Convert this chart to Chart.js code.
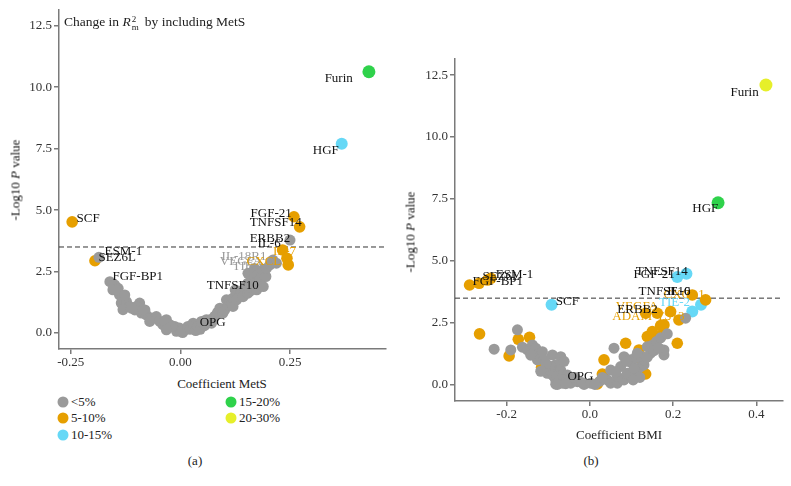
<!DOCTYPE html>
<html>
<head>
<meta charset="utf-8">
<script src="https://cdn.jsdelivr.net/npm/chart.js@4.4.0/dist/chart.umd.min.js"></script>
<style>
body { margin: 0; background: #fff; }
#fig { position: relative; width: 791px; height: 486px; font-family: 'Liberation Serif', serif; color: #222; }
canvas { position: absolute; }
.t { position: absolute; white-space: nowrap; font-size: 13px; line-height: 1; }
.ctr { transform: translate(-50%, -50%); }
.ytitle { transform: translate(-50%, -50%) rotate(-90deg); color: #111; }
.rs { display: inline-flex; flex-direction: column; font-size: 9px; line-height: 8px; vertical-align: middle; margin: 0 6px 0 1px; }
.dot { position: absolute; width: 11px; height: 11px; border-radius: 50%; transform: translate(-50%, -50%); }
</style>
</head>
<body>
<div id="fig">
  <canvas id="chartA" width="400" height="370" style="left:0;top:0"></canvas>
  <canvas id="chartB" width="395" height="422" style="left:396px;top:0"></canvas>

  <div class="t" style="left:64px;top:15px;font-size:13.5px">Change in <i>R</i><span class="rs"><span>2</span><span>m</span></span>by including MetS</div>

  <div class="t ytitle" style="left:15px;top:180px">-Log10 <i>P</i> value</div>
  <div class="t ytitle" style="left:410px;top:232px">-Log10 <i>P</i> value</div>
  <div class="t ctr" style="left:222px;top:383px">Coefficient MetS</div>
  <div class="t ctr" style="left:619px;top:434px">Coefficient BMI</div>

  <div id="legend"></div>

  <div class="t ctr" style="left:195px;top:460px">(a)</div>
  <div class="t ctr" style="left:591px;top:460px">(b)</div>
</div>

<script>
// colour groups: change in R2m
const groupNames = ['<5%', '5-10%', '10-15%', '15-20%', '20-30%'];
const groupColors = ['#9a9a9a', '#e69f00', '#66d8f6', '#2fd24b', '#e6ef2a'];

const yTicks = [0, 2.5, 5, 7.5, 10, 12.5];
const pThreshold = 3.5;

// (a) MetS  [coefficient, -log10 p]
const metsTicks = [-0.25, 0, 0.25];
const metsGrey = [
  [-0.186,3.08],[-0.161,2.09],[-0.150,1.96],[-0.142,1.82],[-0.154,1.76],[-0.139,1.55],[-0.131,1.35],
  [-0.135,1.22],[-0.123,1.28],[-0.116,1.08],[-0.104,0.94],[-0.093,1.22],[-0.089,0.81],[-0.078,0.74],
  [-0.066,0.61],[-0.055,0.67],[-0.047,0.47],[-0.032,0.54],[-0.024,0.34],[-0.013,0.27],[-0.002,0.20],
  [0.010,0.13],[-0.009,0.07],[-0.040,0.34],[-0.070,0.47],[-0.081,0.94],[-0.100,1.08],[-0.131,0.95],
  [-0.145,1.75],[-0.127,1.55],[-0.112,1.01],[-0.085,0.95],[-0.036,0.47],[-0.020,0.27],[-0.032,0.13],
  [0.002,0.07],[0.005,0.02],[0.017,0.27],[0.022,0.15],[0.029,0.40],[0.031,0.27],[0.035,0.10],
  [0.040,0.27],[0.045,0.15],[0.048,0.47],[0.055,0.30],[0.059,0.54],[0.067,0.54],[0.071,0.40],
  [0.078,0.68],[0.082,0.74],[0.085,0.85],[0.090,1.01],[0.097,0.81],[0.101,0.94],[0.105,1.35],
  [0.109,1.15],[0.112,1.28],[0.118,1.20],[0.120,1.08],[0.120,1.42],[0.125,1.75],[0.127,1.55],
  [0.128,1.35],[0.135,1.49],[0.139,1.69],[0.143,1.48],[0.146,1.82],[0.150,1.95],[0.154,1.62],
  [0.154,2.03],[0.154,2.43],[0.158,1.69],[0.160,1.85],[0.162,2.16],[0.165,2.00],[0.169,2.30],
  [0.169,2.63],[0.174,1.76],[0.175,2.10],[0.177,2.36],[0.181,2.16],[0.185,2.45],[0.189,1.89],
  [0.188,2.57],[0.195,2.30],[0.196,2.63],[0.204,2.77],[0.208,2.90],[0.211,2.97],[0.219,2.84],
  [0.250,3.78]
];
const metsP5 = [[-0.247,4.52],[-0.195,2.94],[0.259,4.73],[0.272,4.32],[0.233,3.38],[0.243,3.04],[0.246,2.77]];
const metsP10 = [[0.368,7.70]];
const metsP15 = [[0.430,10.63]];
const metsP20 = [];
// [name, x, y, group] label anchored at its left edge
const metsLabels = [
  ['IL-18R1',0.094,3.13,0],['VEGFA',0.090,2.90,0],['TIE-2',0.119,2.69,0],['CXCL1',0.151,2.90,1],['IL-7',0.211,3.31,1],
  ['Furin',0.329,10.34],['HGF',0.302,7.43],['SCF',-0.237,4.66],['ESM-1',-0.173,3.31],['SEZ6L',-0.187,3.08],
  ['FGF-BP1',-0.155,2.28],['FGF-21',0.160,4.86],['TNFSF14',0.158,4.48],['ERBB2',0.158,3.86],['IL-6',0.176,3.62],
  ['TNFSF10',0.060,1.92],['OPG',0.044,0.41]
];

// (b) BMI
const bmiTicks = [-0.2, 0, 0.2, 0.4];
const bmiGrey = [
  [-0.174,2.22],[-0.230,1.44],[-0.190,1.41],[-0.162,1.52],[-0.150,1.41],[-0.138,1.61],[-0.130,1.48],
  [-0.122,1.28],[-0.114,1.34],[-0.126,1.01],[-0.110,1.01],[-0.090,1.21],[-0.070,1.14],[-0.082,0.81],
  [-0.098,0.74],[-0.094,0.74],[-0.074,0.61],[-0.070,0.60],[-0.102,0.47],[-0.090,0.40],[-0.066,0.40],
  [-0.054,0.40],[-0.086,0.34],[-0.082,0.20],[-0.062,0.20],[-0.050,0.20],[-0.066,0.07],[-0.046,0.07],
  [-0.082,0.03],[-0.078,0.02],[-0.058,0.05],[-0.030,0.13],[-0.014,0.02],[-0.020,0.10],[0.002,0.07],
  [0.042,0.20],[0.050,0.07],[0.066,0.07],[0.082,0.20],[0.098,0.34],[0.066,0.34],[0.090,0.47],
  [0.050,0.60],[0.114,0.60],[0.074,0.74],[0.122,0.74],[0.130,0.81],[0.100,0.90],[0.098,1.01],
  [0.130,1.01],[0.110,1.10],[0.082,1.14],[0.125,1.15],[0.146,1.28],[0.114,1.28],[0.178,1.21],
  [0.178,1.41],[0.058,1.48],[0.138,1.54],[0.150,1.60],[0.160,1.75],[0.170,1.90],[0.186,2.06],
  [0.230,2.69],[-0.142,1.20],[-0.106,0.88],[-0.118,0.55],[-0.062,0.95],[0.024,0.15],[0.030,0.30],
  [0.062,0.52],[0.106,0.66],[0.088,0.95],[0.138,1.12],[0.154,1.38],[0.166,1.48],[0.120,0.30],
  [0.104,0.20],[-0.036,0.30],[0.012,0.02]
];
const bmiP5 = [
  [-0.289,4.03],[-0.266,4.10],[-0.246,4.23],[-0.238,4.30],[-0.265,2.06],[-0.172,1.84],[-0.145,1.92],
  [-0.194,1.17],[-0.116,0.71],[0.018,0.04],[0.030,0.44],[0.034,1.01],[0.086,1.68],[0.118,1.41],
  [0.122,1.08],[0.134,0.44],[0.134,2.89],[0.138,1.95],[0.150,2.15],[0.150,1.81],[0.162,2.89],
  [0.170,2.39],[0.174,2.02],[0.178,2.42],[0.194,2.96],[0.210,1.68],[0.214,2.62],[0.246,3.63],[0.278,3.43]
];
const bmiP10 = [[-0.092,3.23],[0.210,4.35],[0.232,4.48],[0.246,2.96],[0.267,3.23]];
const bmiP15 = [[0.308,7.35]];
const bmiP20 = [[0.423,12.10]];
const bmiLabels = [
  ['VEGFA',0.062,3.15,1],['ADAM-TS13',0.054,2.75,1],['CXCL1',0.177,3.63,1],['TIE-2',0.166,3.31,2],
  ['Furin',0.338,11.81],['HGF',0.246,7.10],['FGF-BP1',-0.282,4.17],['SEZ6L',-0.258,4.37],['ESM-1',-0.226,4.44],
  ['SCF',-0.082,3.36],['TNFSF14',0.110,4.57],['FGF-21',0.105,4.44],['TNFSF10',0.117,3.76],['IL-6',0.186,3.76],
  ['ERBB2',0.066,3.02],['OPG',-0.054,0.33]
];

const FONT = 'Liberation Serif';
const AXIS = '#7a7a7a';

const threshLine = {
  id: 'threshLine',
  beforeDatasetsDraw(chart) {
    const { ctx, chartArea, scales } = chart;
    const py = scales.y.getPixelForValue(pThreshold);
    ctx.save();
    ctx.strokeStyle = '#333';
    ctx.lineWidth = 1;
    ctx.setLineDash([5, 3]);
    ctx.beginPath();
    ctx.moveTo(chartArea.left, py);
    ctx.lineTo(chartArea.right, py);
    ctx.stroke();
    ctx.restore();
  }
};

const geneLabels = {
  id: 'geneLabels',
  afterDatasetsDraw(chart, args, opts) {
    const { ctx, scales } = chart;
    ctx.save();
    ctx.font = '13px "' + FONT + '"';
    ctx.textBaseline = 'middle';
    ctx.textAlign = 'left';
    opts.items.forEach(l => {
      ctx.fillStyle = l[3] === undefined ? '#111' : groupColors[l[3]];
      ctx.fillText(l[0], scales.x.getPixelForValue(l[1]), scales.y.getPixelForValue(l[2]));
    });
    ctx.restore();
  }
};

function makeChart(id, groups, labels, xTicks, xMin, xMax, xDigits, top, right) {
  const radii = [5.5, 5.8, 6, 6.5, 6.5];
  return new Chart(document.getElementById(id), {
    type: 'scatter',
    data: {
      datasets: groups.map((g, i) => ({
        label: groupNames[i],
        data: g.map(p => ({ x: p[0], y: p[1] })),
        backgroundColor: groupColors[i],
        borderWidth: 0,
        pointRadius: radii[i],
        pointHoverRadius: radii[i]
      }))
    },
    options: {
      responsive: false,
      animation: false,
      events: [],
      clip: false,
      layout: { padding: { top: top, right: right, left: 0, bottom: 0 } },
      plugins: {
        legend: { display: false },
        tooltip: { enabled: false },
        geneLabels: { items: labels }
      },
      scales: {
        x: {
          type: 'linear', min: xMin, max: xMax,
          afterBuildTicks: s => { s.ticks = xTicks.map(v => ({ value: v })); },
          afterFit: s => { s.height = 21; },
          border: { color: AXIS, width: 1.5 },
          grid: { drawOnChartArea: false, drawTicks: true, tickLength: 5, color: AXIS, lineWidth: 1.5 },
          ticks: { font: { family: FONT, size: 13 }, color: '#333', padding: 1, maxRotation: 0, autoSkip: false,
                   callback: v => v.toFixed(xDigits) }
        },
        y: {
          type: 'linear', min: -0.65, max: 13.15,
          afterBuildTicks: s => { s.ticks = yTicks.map(v => ({ value: v })); },
          afterFit: s => { s.width = 59; },
          border: { color: AXIS, width: 1.5 },
          grid: { drawOnChartArea: false, drawTicks: true, tickLength: 5, color: AXIS, lineWidth: 1.5 },
          ticks: { font: { family: FONT, size: 13 }, color: '#333', padding: 2, autoSkip: false,
                   callback: v => v.toFixed(1) }
        }
      }
    },
    plugins: [threshLine, geneLabels]
  });
}

makeChart('chartA', [metsGrey, metsP5, metsP10, metsP15, metsP20], metsLabels, metsTicks, -0.277, 0.469, 2, 8, 14);
makeChart('chartB', [bmiGrey, bmiP5, bmiP10, bmiP15, bmiP20], bmiLabels, bmiTicks, -0.324, 0.464, 1, 59, 8);

// legend under panel (a), two columns
const legendPos = [[63, 402], [63, 418], [63, 435], [231, 402], [231, 418]];
const legend = document.getElementById('legend');
groupNames.forEach((name, i) => {
  const [lx, ly] = legendPos[i];
  const dot = document.createElement('div');
  dot.className = 'dot';
  dot.style.left = lx + 'px';
  dot.style.top = ly + 'px';
  dot.style.background = groupColors[i];
  legend.appendChild(dot);
  const txt = document.createElement('div');
  txt.className = 't';
  txt.style.left = (lx + 8) + 'px';
  txt.style.top = (ly - 7) + 'px';
  txt.textContent = name;
  legend.appendChild(txt);
});
</script>
</body>
</html>
